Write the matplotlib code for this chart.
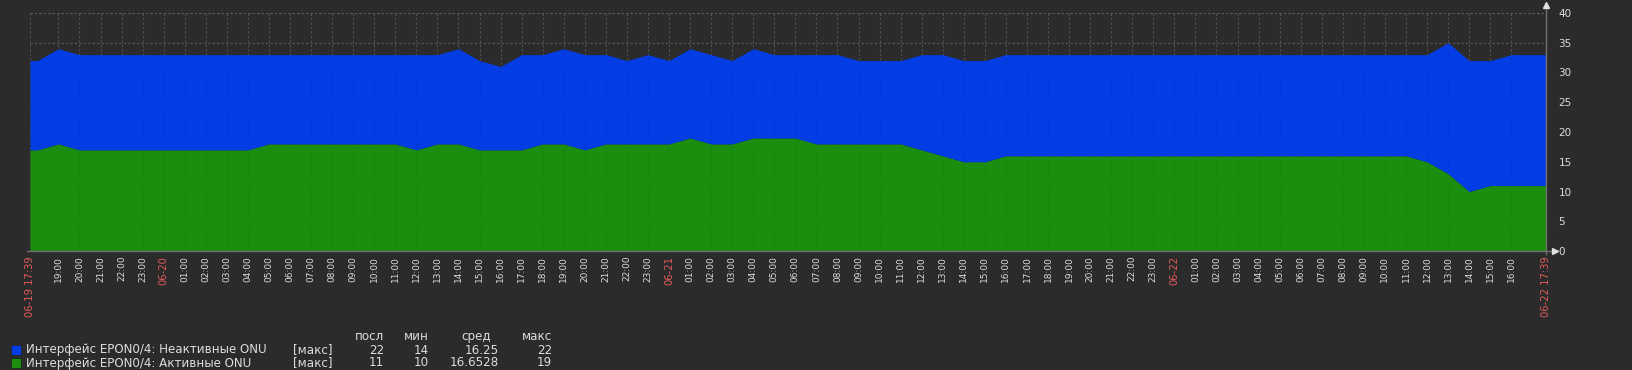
import numpy as np
import pandas as pd
import matplotlib
matplotlib.use("Agg")
import matplotlib.pyplot as plt
from matplotlib.patches import Rectangle
from matplotlib.lines import Line2D

# Hourly values, 06-19 18:00 .. 06-22 17:00
active = [17, 18, 17, 17, 17, 17,
          17, 17, 17, 17, 17, 18, 18, 18, 18, 18, 18, 18, 17, 18, 18, 17, 17, 17, 18, 18, 17, 18, 18, 18,
          18, 19, 18, 18, 19, 19, 19, 18, 18, 18, 18, 18, 17, 16, 15, 15, 16, 16, 16, 16, 16, 16, 16, 16,
          16, 16, 16, 16, 16, 16, 16, 16, 16, 16, 16, 16, 15, 13, 10, 11, 11, 11]
total = [32, 34, 33, 33, 33, 33,
         33, 33, 33, 33, 33, 33, 33, 33, 33, 33, 33, 33, 33, 33, 34, 32, 31, 33, 33, 34, 33, 33, 32, 33,
         32, 34, 33, 32, 34, 33, 33, 33, 33, 32, 32, 32, 33, 33, 32, 32, 33, 33, 33, 33, 33, 33, 33, 33,
         33, 33, 33, 33, 33, 33, 33, 33, 33, 33, 33, 33, 33, 35, 32, 32, 33, 33]
inactive = [t - a for t, a in zip(total, active)]

start = pd.Timestamp("2024-06-19 17:39")
end = pd.Timestamp("2024-06-22 17:39")
hours = pd.date_range("2024-06-19 18:00", periods=len(active), freq="h")

series_names = ["Интерфейс EPON0/4: Неактивные ONU", "Интерфейс EPON0/4: Активные ONU"]
legend_last = ["22", "11"]
legend_min = ["14", "10"]
legend_avg = ["16.25", "16.6528"]
legend_max = ["22", "19"]

BG = "#2b2b2b"
BLUE = "#033de3"
GREEN = "#1b8e10"
TXT = "#dcdcdc"
RED = "#e45959"
GRID = "#5a5a5a"
AXIS = "#707070"

W, H = 1633, 370
fig = plt.figure(figsize=(W / 100, H / 100), dpi=100, facecolor=BG)


def fx(px):
    return px / W


def fy(py):
    return 1 - py / H


L, R, T, B = 30, 1546, 13, 251
ax = fig.add_axes([fx(L), fy(B), fx(R - L), (B - T) / H])
ax.set_facecolor(BG)

t = np.r_[np.array([start]), hours.to_pydatetime(), np.array([end])]
a = np.r_[active[0], active, active[-1]]
ia = np.r_[inactive[0], inactive, inactive[-1]]

ax.fill_between(t, 0, a, color=GREEN, lw=0, zorder=2)
ax.fill_between(t, a, a + ia, color=BLUE, lw=0, zorder=2)

ax.set_xlim(start, end)
ax.set_ylim(0, 40)

# ticks: every hour, dates at midnight in red
tick_times = list(pd.date_range("2024-06-19 19:00", "2024-06-22 16:00", freq="h"))
labels, colors, sizes = [], [], []
for tt in tick_times:
    if tt.hour == 0:
        labels.append(tt.strftime("%m-%d"))
        colors.append(RED)
        sizes.append(7.2)
    else:
        labels.append(tt.strftime("%H:00"))
        colors.append(TXT)
        sizes.append(6.5)
all_ticks = [start] + tick_times + [end]
all_labels = [start.strftime("%m-%d %H:%M")] + labels + [end.strftime("%m-%d %H:%M")]
all_colors = [RED] + colors + [RED]
all_sizes = [7.2] + sizes + [7.2]

ax.set_xticks(all_ticks)
ax.set_xticklabels(all_labels, rotation=90, ha="center", va="top")
for lbl, c, s in zip(ax.get_xticklabels(), all_colors, all_sizes):
    lbl.set_color(c)
    lbl.set_fontsize(s)
ax.tick_params(axis="x", length=0, pad=3.5)

ax.yaxis.tick_right()
ax.set_yticks(np.arange(0, 41, 5))
ax.tick_params(axis="y", length=0, pad=9, labelsize=7.5, labelcolor=TXT)

for s in ax.spines.values():
    s.set_visible(False)

# dotted grid behind and faint over the fill
ax.grid(True, color=GRID, linestyle=(0, (2, 2)), linewidth=0.8, zorder=1)
ax.set_axisbelow(True)
for tt in [start] + tick_times:
    ax.axvline(tt, color="#000000", alpha=0.08, linestyle=(0, (2, 2)), linewidth=0.8, zorder=3)
ax.axhline(40, color=GRID, linestyle=(0, (2, 2)), linewidth=0.8, zorder=3)

# axis lines with arrows
fig.add_artist(Line2D([fx(27), fx(1553)], [fy(B), fy(B)], color=AXIS, lw=1, transform=fig.transFigure))
fig.add_artist(Line2D([fx(R), fx(R)], [fy(B + 3), fy(6)], color=AXIS, lw=1, transform=fig.transFigure))
fig.add_artist(Line2D([fx(1555)], [fy(B)], marker=">", markersize=4, color="#e0e0e0", lw=0, transform=fig.transFigure))
fig.add_artist(Line2D([fx(R)], [fy(5)], marker="^", markersize=4, color="#e0e0e0", lw=0, transform=fig.transFigure))

# legend
fs = 8.6
hy = 336.5
fig.text(fx(384), fy(hy), "посл", color=TXT, fontsize=fs, ha="right", va="center")
fig.text(fx(429), fy(hy), "мин", color=TXT, fontsize=fs, ha="right", va="center")
fig.text(fx(491), fy(hy), "сред", color=TXT, fontsize=fs, ha="right", va="center")
fig.text(fx(552), fy(hy), "макс", color=TXT, fontsize=fs, ha="right", va="center")

for i, (name, col) in enumerate(zip(series_names, [BLUE, GREEN])):
    y = 350 + i * 13
    fig.add_artist(Rectangle((fx(11), fy(y + 4.5)), fx(10), 9.5 / H, facecolor=col,
                             edgecolor="#1e1e1e", lw=0.5, transform=fig.transFigure))
    fig.text(fx(26.5), fy(y), name, color=TXT, fontsize=fs, ha="left", va="center")
    fig.text(fx(293), fy(y), "[макс]", color=TXT, fontsize=fs, ha="left", va="center")
    fig.text(fx(384), fy(y), legend_last[i], color=TXT, fontsize=fs, ha="right", va="center")
    fig.text(fx(429), fy(y), legend_min[i], color=TXT, fontsize=fs, ha="right", va="center")
    fig.text(fx(499), fy(y), legend_avg[i], color=TXT, fontsize=fs, ha="right", va="center")
    fig.text(fx(552), fy(y), legend_max[i], color=TXT, fontsize=fs, ha="right", va="center")

fig.savefig("out.png", dpi=100, facecolor=BG)
